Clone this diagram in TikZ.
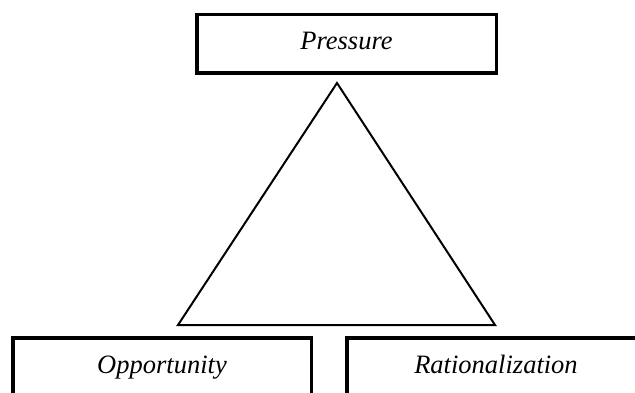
\documentclass[tikz,border=0pt]{standalone}
\usepackage{fontspec}
\setmainfont{Liberation Serif}
\newfontfamily\lblfont{Liberation Serif}
\begin{document}
\begin{tikzpicture}[x=1pt,y=-1pt,
  labelbox/.style={draw=black, line width=3.5pt, fill=white, minimum width=299.5pt,
    minimum height=58.5pt, inner sep=0pt, text height=17pt, text depth=5pt,
    font=\lblfont\fontsize{26.5}{30}\selectfont\itshape},
  tri/.style={draw=black, line width=2pt, line join=miter}]
\useasboundingbox (0,0) rectangle (635,393);
\clip (0,0) rectangle (635,393);
\fill[white] (0,0) rectangle (635,393);
\node[labelbox] (pressure) at (346.5,44) {Pressure};
\coordinate (apex) at (337,83);
\coordinate (bl) at (178,325);
\coordinate (br) at (495,325);
\draw[tri] (apex) -- (bl) -- (br) -- cycle;
\node[labelbox, minimum width=298.5pt] (opportunity) at (162,367) {Opportunity};
\node[labelbox, minimum width=298.5pt] (rational) at (496,367) {Rationalization};
\end{tikzpicture}
\end{document}
